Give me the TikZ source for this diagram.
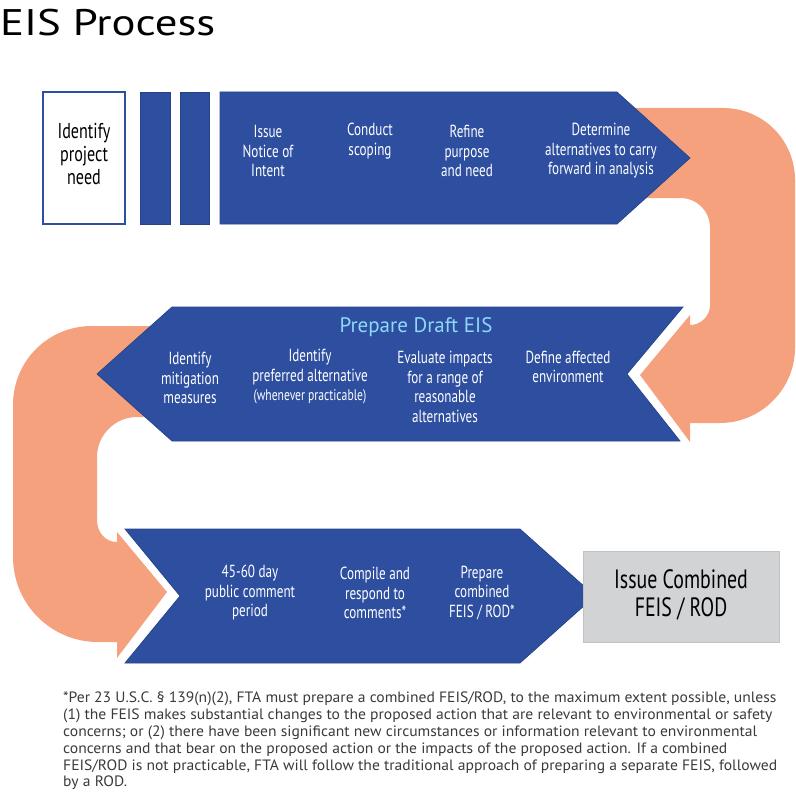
\documentclass[tikz,border=0pt]{standalone}
\usepackage{fontspec}
\setmainfont{PT Sans}
\newfontfamily\titlefont[FakeStretch=1.21]{PT Sans}
\newfontfamily\condfont[FakeStretch=0.75]{PT Sans}
\newfontfamily\notefont[FakeStretch=1.04]{PT Sans}
\usetikzlibrary{positioning}
\definecolor{eisblue}{HTML}{2E4FA0}
\definecolor{eisorange}{HTML}{F5A17E}
\definecolor{eissky}{HTML}{8ED8F8}
\definecolor{eisgray}{HTML}{D1D3D4}
\definecolor{notegray}{HTML}{3A3A3A}

\begin{document}
\begin{tikzpicture}[x=1pt,y=-1pt,
  steptext/.style={text=white,align=center,inner sep=0pt,font=\condfont\fontsize{17.5}{19.5}\selectfont},
  bluebar/.style={fill=eisblue,draw=eisblue!85!black,line width=0.7pt},
  uturn/.style={fill=eisorange}]
\useasboundingbox (0,0) rectangle (795,797);

\node[anchor=base west,inner sep=0pt,font=\titlefont\fontsize{37}{40}\selectfont] (title) at (0,36) {EIS Process};

\fill[uturn] (600,108) -- (723,108) .. controls (763,108) and (795,140) .. (795,180)
    -- (795,348) .. controls (795,389) and (761,423) .. (720,423)
    -- (690,423) -- (690,442) -- (640,375) -- (690,315) -- (690,325)
    .. controls (701,325) and (710,316) .. (710,305)
    -- (710,228) .. controls (710,211) and (697,198) .. (680,198)
    -- (600,198) -- cycle;
\fill[uturn] (200,326) -- (92,326) .. controls (48,326) and (13,361) .. (13,405)
    -- (13,557) .. controls (13,604) and (51,642) .. (98,642)
    -- (117,642) -- (117,658) -- (167,592) -- (117,532) -- (117,542)
    .. controls (105,542) and (97,532) .. (97,520)
    -- (97,457) .. controls (97,435) and (115,417) .. (137,417)
    -- (200,417) -- cycle;

\draw[eisblue,line width=1.5pt,fill=white] (43,92) rectangle (125,224);
\draw[bluebar] (140,92) rectangle (170,224);
\draw[bluebar] (180,92) rectangle (209,224);
\draw[bluebar] (220,92) -- (617,92) -- (690,158) -- (617,224) -- (220,224) -- cycle;
\draw[bluebar] (172,307) -- (683,307) -- (627,374) -- (680,441) -- (172,441) -- (97,374) -- cycle;
\draw[bluebar] (125,529) -- (520,529) -- (595,596) -- (520,663) -- (125,663) -- (180,596) -- cycle;
\draw[fill=eisgray,draw=eisgray!92!black,line width=0.5pt] (583,551) rectangle (779,642);

\node[align=center,inner sep=0pt,font=\condfont\fontsize{21.5}{23}\selectfont] (need) at (84,154) {Identify\\project\\need};
\node[steptext] (intent) at (268,151) {Issue\\Notice of\\Intent};
\node[steptext] (scoping) at (370,141) {Conduct\\scoping};
\node[steptext] (refine) at (467,151) {Refine\\purpose\\and need};
\node[steptext] (carry) at (601,151) {Determine\\alternatives to carry\\forward in analysis};

\node[inner sep=0pt,text=eissky,font=\fontsize{21}{24}\selectfont] (draft) at (416,327) {Prepare Draft EIS};
\node[steptext] (mitigation) at (190,378) {Identify\\mitigation\\measures};
\node[steptext] (preferred) at (310,377) {Identify\\preferred alternative\\{\fontsize{15.5}{17}\selectfont(whenever practicable)}};
\node[steptext] (evaluate) at (445,387) {Evaluate impacts\\for a range of\\reasonable\\alternatives};
\node[steptext] (affected) at (568,367) {Define affected\\environment};

\node[steptext] (comment) at (250,593) {45-60 day\\public comment\\period};
\node[steptext] (respond) at (375,593) {Compile and\\respond to\\comments*};
\node[steptext] (feis) at (482,593) {Prepare\\combined\\FEIS / ROD*};
\node[align=center,inner sep=0pt,font=\condfont\fontsize{26.5}{28}\selectfont] (rod) at (681,595) {Issue Combined\\FEIS / ROD};

\node[anchor=north west,align=left,inner sep=0pt,text=notegray,font=\notefont\fontsize{15}{16.8}\selectfont] (note) at (63,692)
  {*Per 23 U.S.C. \S\ 139(n)(2), FTA must prepare a combined FEIS/ROD, to the maximum extent possible, unless\\
   (1) the FEIS makes substantial changes to the proposed action that are relevant to environmental or safety\\
   concerns; or (2) there have been significant new circumstances or information relevant to environmental\\
   concerns and that bear on the proposed action or the impacts of the proposed action. If a combined\\
   FEIS/ROD is not practicable, FTA will follow the traditional approach of preparing a separate FEIS, followed\\
   by a ROD.};
\end{tikzpicture}
\end{document}
